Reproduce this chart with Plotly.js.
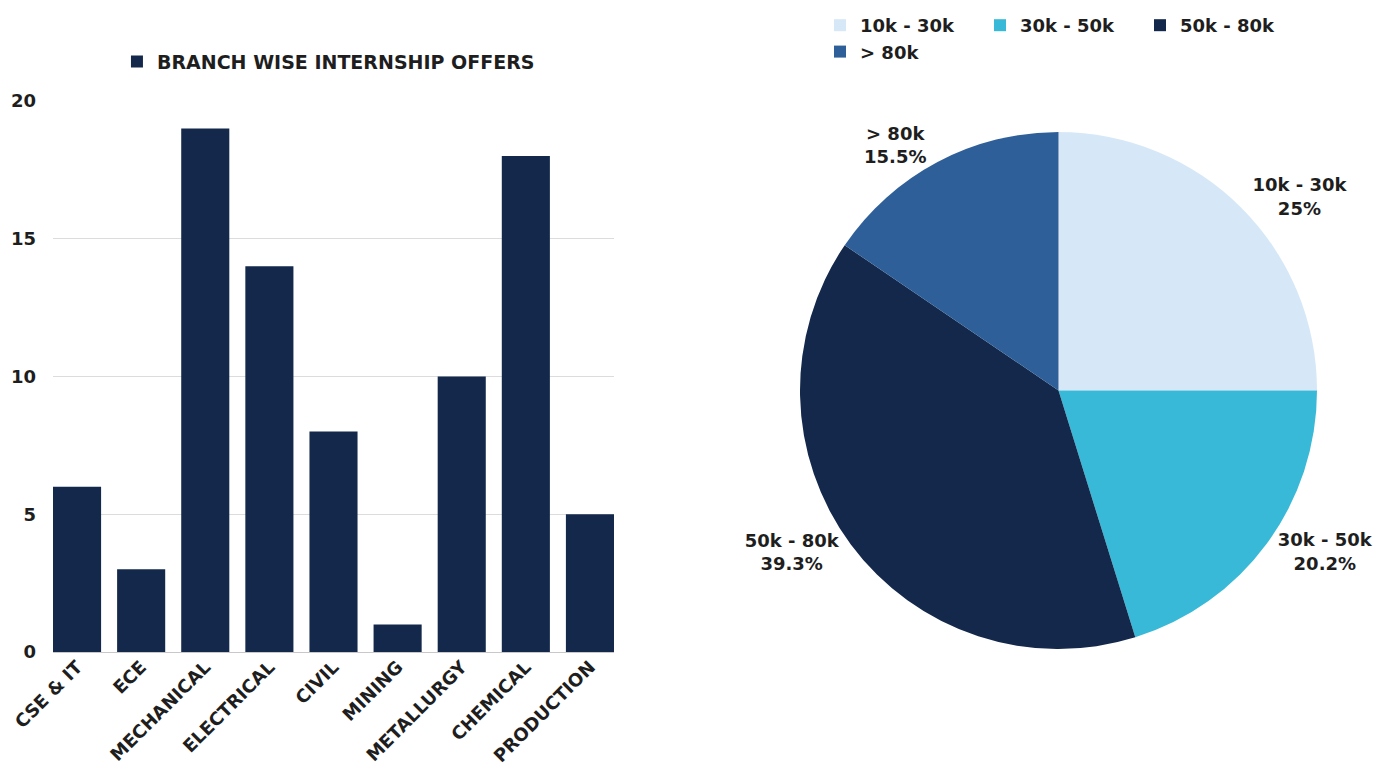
<!DOCTYPE html>
<html>
<head>
<meta charset="utf-8">
<script src="https://cdn.plot.ly/plotly-3.0.1.min.js"></script>
<style>
  html, body { margin: 0; padding: 0; background: #ffffff; }
  #wrap { position: relative; width: 1384px; height: 781px; overflow: hidden; }
  #bar { position: absolute; left: 0; top: 0; width: 692px; height: 781px; }
  #pie { position: absolute; left: 692px; top: 0; width: 692px; height: 781px; }
</style>
</head>
<body>
<div id="wrap">
  <div id="bar"></div>
  <div id="pie"></div>
</div>
<script>
// ---- Data ----
const branches = ["CSE & IT", "ECE", "MECHANICAL", "ELECTRICAL", "CIVIL", "MINING", "METALLURGY", "CHEMICAL", "PRODUCTION"];
const offers = [6, 3, 19, 14, 8, 1, 10, 18, 5];
const barSeriesName = "BRANCH WISE INTERNSHIP OFFERS";
const yTicks = [0, 5, 10, 15, 20];

const stipendRanges = ["10k - 30k", "30k - 50k", "50k - 80k", "> 80k"];
const stipendShares = [25, 20.2, 39.3, 15.5];

// ---- Styles ----
const navy = "#13284b";
const pieColors = ["#d6e8f7", "#38b9d7", "#13284b", "#2e5f98"];
const fontFam = "DejaVu Sans, Open Sans, sans-serif";
const txt = "#1e1e1e";

// ---- Bar chart ----
const barTrace = {
  type: "bar",
  x: branches,
  y: offers,
  name: barSeriesName,
  marker: { color: navy },
  showlegend: true,
  hoverinfo: "none"
};

const barLayout = {
  width: 692, height: 781,
  margin: { l: 53, r: 78, t: 101, b: 129, autoexpand: false },
  paper_bgcolor: "#ffffff",
  plot_bgcolor: "#ffffff",
  bargap: 0.25,
  showlegend: true,
  legend: {
    orientation: "h",
    x: 0.114, xanchor: "left",
    y: 1.106, yanchor: "top",
    font: { family: fontFam, size: 19, weight: "bold", color: txt }
  },
  xaxis: {
    type: "category",
    range: [-0.375, 8.375],
    tickangle: -45,
    showgrid: false,
    showline: false,
    zeroline: false,
    ticks: "",
    tickfont: { family: fontFam, size: 18, weight: "bold", color: txt }
  },
  yaxis: {
    range: [0, 20],
    tickvals: yTicks,
    showgrid: true,
    gridcolor: "#dcdcdc",
    gridwidth: 1,
    zeroline: true,
    zerolinecolor: "#c8c8c8",
    zerolinewidth: 1,
    showline: false,
    ticks: "",
    ticklabelstandoff: 16,
    tickfont: { family: fontFam, size: 18, weight: "bold", color: txt }
  }
};

Plotly.newPlot("bar", [barTrace], barLayout, { staticPlot: true, displayModeBar: false });

// ---- Pie chart ----
const pieTrace = {
  type: "pie",
  labels: stipendRanges,
  values: stipendShares,
  sort: false,
  direction: "clockwise",
  rotation: 0,
  marker: { colors: pieColors, line: { width: 0 } },
  textposition: "outside",
  texttemplate: "%{label}<br>%{percent}",
  textfont: { family: fontFam, size: 18, weight: "bold", color: txt },
  hoverinfo: "none",
  domain: { x: [0, 1], y: [0, 1] }
};

const pieLayout = {
  width: 692, height: 781,
  margin: { l: 108, r: 67, t: 132, b: 132, autoexpand: false },
  paper_bgcolor: "#ffffff",
  showlegend: true,
  legend: {
    orientation: "h",
    x: 0.0387, xanchor: "left",
    y: 1.2418, yanchor: "top",
    entrywidthmode: "pixels",
    entrywidth: 115,
    font: { family: fontFam, size: 18, weight: "bold", color: txt }
  }
};

Plotly.newPlot("pie", [pieTrace], pieLayout, { staticPlot: true, displayModeBar: false });
</script>
</body>
</html>
